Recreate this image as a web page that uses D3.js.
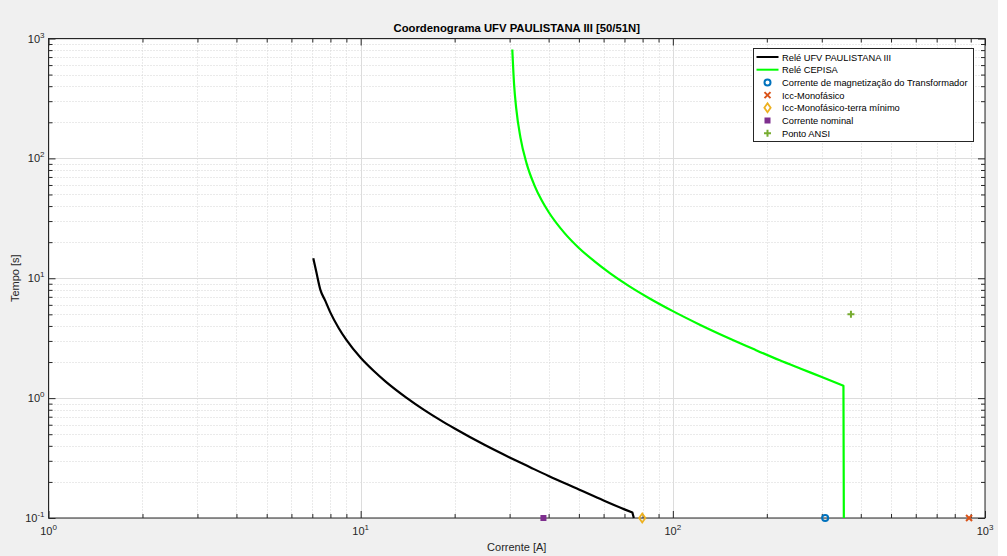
<!DOCTYPE html>
<html><head><meta charset="utf-8">
<script src="https://cdn.jsdelivr.net/npm/d3@7"></script>
<style>
html,body{margin:0;padding:0;background:#fff;}
svg{display:block;font-family:"Liberation Sans",Arial,Helvetica,sans-serif;}
</style></head>
<body><svg id="c" width="1007" height="556"></svg>
<script>
// ---- data ----
const title = "Coordenograma UFV PAULISTANA III [50/51N]";
const xLabel = "Corrente [A]";
const yLabel = "Tempo [s]";
const xTickValues = [1, 10, 100, 1000];
const xTickExps = ["0", "1", "2", "3"];
const yTickValues = [0.1, 1, 10, 100, 1000];
const yTickExps = ["-1", "0", "1", "2", "3"];

const releUFV_I = [7.05, 7.2, 7.43, 7.7, 8.0, 8.5, 9.0, 10, 11, 12, 14, 16, 18, 20, 25, 30, 35, 40, 50, 60, 70, 74.2, 75.0];
const releUFV_t = [14.7, 11.5, 8.0, 6.5, 5.17, 3.85, 3.06, 2.17, 1.69, 1.38, 1.01, 0.794, 0.655, 0.558, 0.406, 0.320, 0.264, 0.224, 0.173, 0.140, 0.118, 0.111, 0.1];

const releCEPISA_I = [30.6, 31.0, 31.5, 32.5, 34, 36, 38, 40, 45, 50, 56, 63, 72, 84, 100, 122, 150, 183, 220, 257, 300, 352, 353];
const releCEPISA_t = [809, 418, 261, 149, 90.9, 59.9, 44.7, 35.7, 23.8, 17.9, 13.9, 11.0, 8.69, 6.82, 5.32, 4.10, 3.19, 2.54, 2.07, 1.76, 1.50, 1.27, 0.1];

const magI = [307.6], magT = [0.1];
const iccMonoI = [889], iccMonoT = [0.1];
const iccTerraI = [79.8], iccTerraT = [0.1];
const nominalI = [38.5], nominalT = [0.1];
const ansiI = [372], ansiT = [5.0];

const legendLabels = ["Relé UFV PAULISTANA III", "Relé CEPISA", "Corrente de magnetização do Transformador", "Icc-Monofásico", "Icc-Monofásico-terra mínimo", "Corrente nominal", "Ponto ANSI"];

// ---- layout ----
const svg = d3.select("#c");
const L = 48.5, R = 985, T = 38.5, B = 518;
svg.append("rect").attr("x",0).attr("y",0).attr("width",998).attr("height",556).attr("fill","#f0f0f0");
svg.append("rect").attr("x",L).attr("y",T).attr("width",R-L).attr("height",B-T).attr("fill","#fff");

const x = d3.scaleLog().domain([1,1000]).range([L,R]);
const y = d3.scaleLog().domain([0.1,1000]).range([B,T]);

const minorX = [], minorY = [];
for (let d = 1; d < 1000; d *= 10) for (let k = 2; k <= 9; k++) minorX.push(d*k);
for (let d = 0.1; d < 1000; d *= 10) for (let k = 2; k <= 9; k++) minorY.push(+(d*k).toPrecision(3));

const grid = svg.append("g");
grid.selectAll(".mgx").data(minorX).enter().append("line")
  .attr("x1",d=>Math.round(x(d))+0.5).attr("x2",d=>Math.round(x(d))+0.5).attr("y1",T).attr("y2",B)
  .attr("stroke","#d4d4d4").attr("stroke-width",1).attr("stroke-dasharray","1,2");
grid.selectAll(".mgy").data(minorY).enter().append("line")
  .attr("y1",d=>Math.round(y(d))+0.5).attr("y2",d=>Math.round(y(d))+0.5).attr("x1",L).attr("x2",R)
  .attr("stroke","#d4d4d4").attr("stroke-width",1).attr("stroke-dasharray","1,2");
grid.selectAll(".Mgx").data(xTickValues).enter().append("line")
  .attr("x1",d=>Math.round(x(d))+0.5).attr("x2",d=>Math.round(x(d))+0.5).attr("y1",T).attr("y2",B)
  .attr("stroke","#dcdcdc").attr("stroke-width",1);
grid.selectAll(".Mgy").data(yTickValues).enter().append("line")
  .attr("y1",d=>Math.round(y(d))+0.5).attr("y2",d=>Math.round(y(d))+0.5).attr("x1",L).attr("x2",R)
  .attr("stroke","#dcdcdc").attr("stroke-width",1);

function styleAxis(g){
  g.select(".domain").remove();
  g.selectAll("line").attr("stroke","#262626");
}
function addAxis(gen, tx, ty, vals, size){
  const g = svg.append("g").attr("transform",`translate(${tx},${ty})`)
    .call(gen.tickValues(vals).tickSize(size).tickFormat(""));
  styleAxis(g);
}
addAxis(d3.axisBottom(x), 0, B, minorX, -4);
addAxis(d3.axisBottom(x), 0, B, xTickValues, -7);
addAxis(d3.axisTop(x), 0, T, minorX, -4);
addAxis(d3.axisTop(x), 0, T, xTickValues, -7);
addAxis(d3.axisLeft(y), L, 0, minorY, -4);
addAxis(d3.axisLeft(y), L, 0, yTickValues, -7);
addAxis(d3.axisRight(y), R, 0, minorY, -4);
addAxis(d3.axisRight(y), R, 0, yTickValues, -7);

svg.append("rect").attr("x",L).attr("y",T).attr("width",R-L).attr("height",B-T)
  .attr("fill","none").attr("stroke","#262626").attr("stroke-width",1);

const lab = svg.append("g").attr("font-size",11).attr("fill","#262626");
xTickValues.forEach((v,i)=>{
  const t = lab.append("text").attr("x",x(v)).attr("y",B+17).attr("text-anchor","middle");
  t.append("tspan").text("10");
  t.append("tspan").attr("dy",-5).attr("font-size",8).text(xTickExps[i]);
});
yTickValues.forEach((v,i)=>{
  const t = lab.append("text").attr("x",L-4).attr("y",y(v)+4).attr("text-anchor","end");
  t.append("tspan").text("10");
  t.append("tspan").attr("dy",-5).attr("font-size",8).text(yTickExps[i]);
});

svg.append("text").attr("x",(L+R)/2).attr("y",32).attr("text-anchor","middle")
  .attr("font-size",11.3).attr("font-weight","bold").attr("fill","#000").text(title);
svg.append("text").attr("x",(L+R)/2).attr("y",551).attr("text-anchor","middle")
  .attr("font-size",11).attr("fill","#262626").text(xLabel);
svg.append("text").attr("transform",`translate(19,${(T+B)/2}) rotate(-90)`).attr("text-anchor","middle")
  .attr("font-size",11).attr("fill","#262626").text(yLabel);

// curves: smooth inverse-time part + straight final drop
const smooth = d3.line().x(d=>x(d[0])).y(d=>y(d[1])).curve(d3.curveMonotoneX);
const straight = d3.line().x(d=>x(d[0])).y(d=>y(d[1]));
const plot = svg.append("g");
function drawRelay(I, Tt, color){
  const pts = d3.zip(I, Tt);
  const n = pts.length;
  const p = smooth(pts.slice(0, n-1)) + straight(pts.slice(n-2)).replace(/^M[^L]*/, "");
  plot.append("path").attr("d", p)
    .attr("fill","none").attr("stroke",color).attr("stroke-width",2.2).attr("stroke-linejoin","round");
}
drawRelay(releUFV_I, releUFV_t, "#000");
drawRelay(releCEPISA_I, releCEPISA_t, "#00ff00");

function circleM(g,cx,cy){ g.append("circle").attr("cx",cx).attr("cy",cy).attr("r",3).attr("fill","none").attr("stroke","#0072BD").attr("stroke-width",2); }
function xM(g,cx,cy){ const s=3; g.append("path").attr("d",`M${cx-s},${cy-s}L${cx+s},${cy+s}M${cx-s},${cy+s}L${cx+s},${cy-s}`).attr("stroke","#D95319").attr("stroke-width",2); }
function diamondM(g,cx,cy){ const s=4.5; g.append("path").attr("d",`M${cx},${cy-s}L${cx+s*0.7},${cy}L${cx},${cy+s}L${cx-s*0.7},${cy}Z`).attr("fill","none").attr("stroke","#EDB120").attr("stroke-width",1.8); }
function squareM(g,cx,cy){ g.append("rect").attr("x",cx-3).attr("y",cy-3).attr("width",6).attr("height",6).attr("fill","#7E2F8E"); }
function plusM(g,cx,cy){ const s=3.5; g.append("path").attr("d",`M${cx-s},${cy}L${cx+s},${cy}M${cx},${cy-s}L${cx},${cy+s}`).attr("stroke","#77AC30").attr("stroke-width",2); }

const markerSets = [[magI,magT,circleM],[iccMonoI,iccMonoT,xM],[iccTerraI,iccTerraT,diamondM],[nominalI,nominalT,squareM],[ansiI,ansiT,plusM]];
markerSets.forEach(([I,Tt,fn])=>{ I.forEach((v,i)=>fn(plot,x(v),y(Tt[i]))); });

const lg = svg.append("g").attr("transform","translate(753.5,48.5)");
lg.append("rect").attr("width",220).attr("height",93).attr("fill","#fff").attr("stroke","#262626").attr("stroke-width",1);
const rowH = 12.7;
legendLabels.forEach((s,i)=>{
  const cy = 8.5 + i*rowH;
  lg.append("text").attr("x",28.5).attr("y",cy+3.5).attr("font-size",9.3).attr("fill","#000").text(s);
});
lg.append("line").attr("x1",3).attr("x2",25).attr("y1",8.5).attr("y2",8.5).attr("stroke","#000").attr("stroke-width",2);
lg.append("line").attr("x1",3).attr("x2",25).attr("y1",8.5+rowH).attr("y2",8.5+rowH).attr("stroke","#00ff00").attr("stroke-width",2);
[circleM,xM,diamondM,squareM,plusM].forEach((fn,i)=>fn(lg,14,8.5+(i+2)*rowH));
</script></body></html>
